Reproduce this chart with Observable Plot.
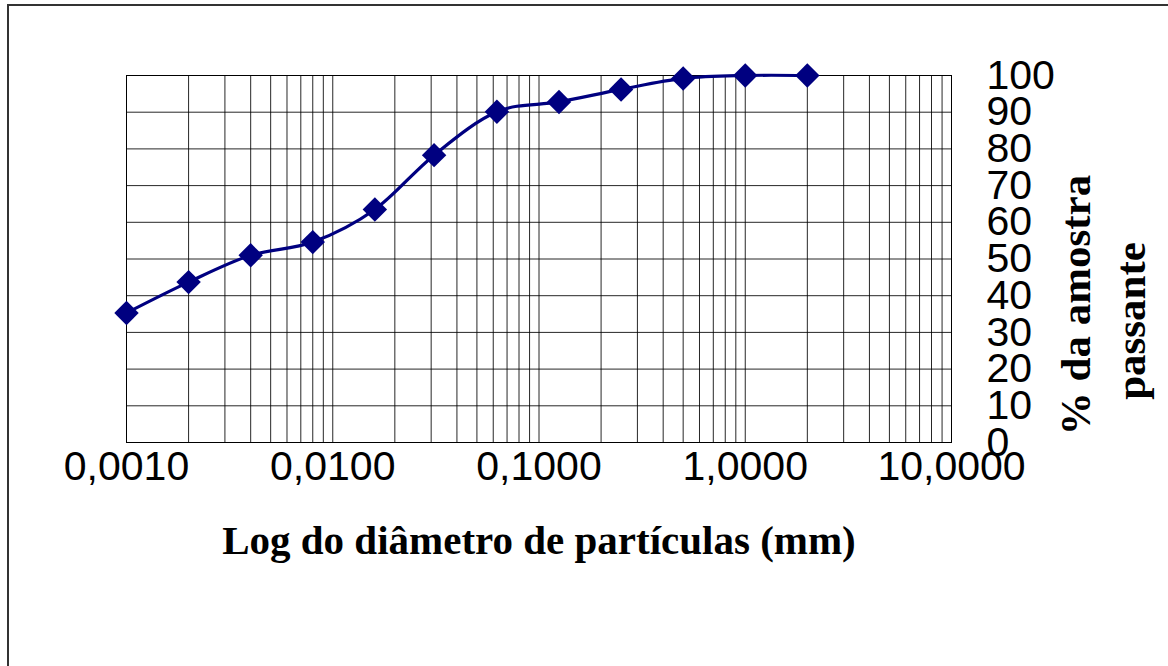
<!DOCTYPE html>
<html>
<head>
<meta charset="utf-8">
<script src="https://cdn.jsdelivr.net/npm/d3@7"></script>
<script src="https://cdn.jsdelivr.net/npm/@observablehq/plot@0.6"></script>
<style>
  html, body { margin: 0; padding: 0; background: #fff; overflow: hidden; }
  #wrap { position: relative; width: 1168px; height: 666px; }
  #chart { position: absolute; left: 0; top: 0; }
  #border { position: absolute; left: 7px; top: 4px; width: 2000px; height: 2000px;
            border-top: 2px solid #333; border-left: 2px solid #333; pointer-events: none; }
</style>
</head>
<body>
<div id="wrap"><div id="chart"></div><div id="border"></div></div>
<script>
// Particle diameter (mm) and % passing
const diameters = [0.001, 0.002, 0.004, 0.008, 0.016, 0.031, 0.0625, 0.125, 0.25, 0.5, 1, 2];
const passing   = [35.3, 43.7, 51.0, 54.6, 63.5, 78.3, 90.1, 92.8, 96.2, 99.2, 100, 100];
const xTicks = [0.001, 0.01, 0.1, 1, 10];
const yTicks = [0, 10, 20, 30, 40, 50, 60, 70, 80, 90, 100];
const xTitle = "Log do diâmetro de partículas (mm)";
const yTitle1 = "% da amostra";
const yTitle2 = "passante";

const data = diameters.map((d, i) => ({d, p: passing[i]}));
const xGrid = [];
for (let k = -3; k <= 0; k++) for (let m = 1; m <= 9; m++) xGrid.push(+(m * Math.pow(10, k)).toPrecision(6));
xGrid.push(10);

const serif = "'Liberation Serif', 'Times New Roman', serif";
const navy = "#000080";

const chart = Plot.plot({
  width: 1168,
  height: 666,
  marginLeft: 126,
  marginTop: 75,
  marginRight: 217,
  marginBottom: 224,
  x: {type: "log", domain: [0.001, 10]},
  y: {domain: [0, 100]},
  style: {fontFamily: "'Liberation Sans', Arial, sans-serif", fontSize: "41px", background: "white", overflow: "visible", color: "#000"},
  marks: [
    Plot.ruleX(xGrid, {stroke: "#000", strokeWidth: 1, strokeOpacity: 0.85}),
    Plot.ruleY(yTicks, {stroke: "#000", strokeWidth: 1, strokeOpacity: 0.85}),
    Plot.frame({stroke: "#000", strokeWidth: 1}),
    Plot.axisX(xTicks, {tickSize: 0, tickPadding: 8, label: null, fontSize: 41,
      tickFormat: d => d.toFixed(4).replace(".", ",")}),
    Plot.axisY(yTicks, {anchor: "right", tickSize: 0, tickPadding: 35, textAnchor: "start", label: null, fontSize: 41}),
    Plot.line(data, {x: "d", y: "p", stroke: navy, strokeWidth: 3.2, curve: "cardinal", tension: 0}),
    Plot.dot(data, {x: "d", y: "p", symbol: "diamond2", r: 11, fill: navy, stroke: "none"}),
    Plot.text([xTitle], {text: d => d, frameAnchor: "bottom", dy: 98, lineAnchor: "middle", textAnchor: "middle",
      fontFamily: serif, fontWeight: "bold", fontSize: 41, fill: "#000"}),
    Plot.text([yTitle1], {text: d => d, frameAnchor: "right", rotate: -90, dx: 125, dy: 46, lineAnchor: "middle", textAnchor: "middle",
      fontFamily: serif, fontWeight: "bold", fontSize: 43, fill: "#000"}),
    Plot.text([yTitle2], {text: d => d, frameAnchor: "right", rotate: -90, dx: 180, dy: 62, lineAnchor: "middle", textAnchor: "middle",
      fontFamily: serif, fontWeight: "bold", fontSize: 43, fill: "#000"})
  ]
});
document.getElementById("chart").appendChild(chart);
</script>
</body>
</html>
